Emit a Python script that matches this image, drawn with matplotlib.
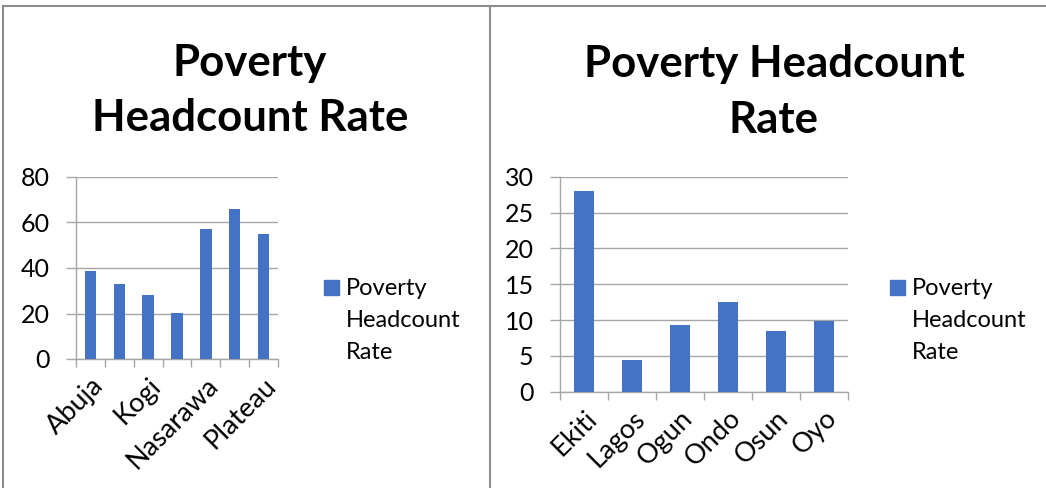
import matplotlib
matplotlib.use("Agg")
import matplotlib.pyplot as plt
from matplotlib.patches import Rectangle
from matplotlib.lines import Line2D
import numpy as np

# ---- data ----
nc_states = ["Abuja", "Benue", "Kogi", "Kwara", "Nasarawa", "Niger", "Plateau"]
nc_values = [38.7, 32.8, 28.2, 20.1, 57.2, 66.1, 55.0]
sw_states = ["Ekiti", "Lagos", "Ogun", "Ondo", "Osun", "Oyo"]
sw_values = [28.0, 4.4, 9.35, 12.5, 8.47, 9.8]
series_name = "Poverty Headcount Rate"
title_left = "Poverty\nHeadcount Rate"
title_right = "Poverty Headcount\nRate"
legend_label = "Poverty\nHeadcount\nRate"

W, H = 1046, 488
BAR = "#4472C4"
GRID = "#A6A6A6"
FONT = "Lato"

plt.rcParams['font.family'] = [FONT, 'DejaVu Sans']

fig = plt.figure(figsize=(W / 100, H / 100), dpi=100)


def fx(px):
    return px / W


def fy(py):
    return 1 - py / H


def setup_axes(ax, names, values, ymax, ystep, label_every):
    n = len(names)
    x = np.arange(n)
    ax.bar(x, values, width=0.4, color=BAR, zorder=3)
    ax.set_xlim(-0.5, n - 0.5)
    ax.set_ylim(0, ymax)
    ax.set_yticks(np.arange(0, ymax + 0.1, ystep))
    ax.yaxis.grid(True, color=GRID, linewidth=1.0, zorder=0)
    ax.set_axisbelow(True)
    for s in ("top", "right"):
        ax.spines[s].set_visible(False)
    for s in ("left", "bottom"):
        ax.spines[s].set_color(GRID)
        ax.spines[s].set_linewidth(1.0)
    ax.tick_params(axis="y", length=7, color=GRID, width=1.0, labelsize=18, pad=12)
    # category boundary ticks
    ax.set_xticks(np.arange(-0.5, n, 1.0), minor=True)
    ax.tick_params(axis="x", which="minor", length=6, color=GRID, width=1.0)
    shown = list(range(0, n, label_every))
    ax.set_xticks(shown)
    ax.set_xticklabels([names[i] for i in shown], rotation=45, ha="right",
                       rotation_mode="anchor", fontsize=19.5)
    ax.tick_params(axis="x", which="major", length=0, pad=10)


# left chart
axL = fig.add_axes([fx(76), fy(359), fx(278) - fx(76), fy(177) - fy(359)])
setup_axes(axL, nc_states, nc_values, 80, 20, 2)

# right chart
axR = fig.add_axes([fx(560), fy(391.7), fx(848) - fx(560), fy(176.7) - fy(391.7)])
setup_axes(axR, sw_states, sw_values, 30, 5, 1)

# titles
TS = 31.5
l1, l2 = title_left.split("\n")
fig.text(fx(250), fy(76), l1, ha="center", va="baseline", fontsize=TS, fontweight="bold")
fig.text(fx(250), fy(131), l2, ha="center", va="baseline", fontsize=TS, fontweight="bold")
r1, r2 = title_right.split("\n")
fig.text(fx(774), fy(77), r1, ha="center", va="baseline", fontsize=TS, fontweight="bold")
fig.text(fx(774), fy(133), r2, ha="center", va="baseline", fontsize=TS, fontweight="bold")

# legends (swatch + wrapped label)
for sx, tx in ((324, 346), (890, 912)):
    fig.patches.append(Rectangle((fx(sx), fy(295)), fx(15), 15 / H,
                                 transform=fig.transFigure, color=BAR))
    for i, line in enumerate(legend_label.split("\n")):
        fig.text(fx(tx), fy(295 + 32 * i), line, ha="left", va="baseline",
                 fontsize=17)

# frame lines
for xs, ys in (([3, W], [6, 6]), ([3, 3], [6, H]), ([490, 490], [6, H])):
    fig.add_artist(Line2D([fx(v) for v in xs], [fy(v) for v in ys],
                          color="#8C8C8C", linewidth=1.5, transform=fig.transFigure))

fig.savefig("out.png", dpi=100)
